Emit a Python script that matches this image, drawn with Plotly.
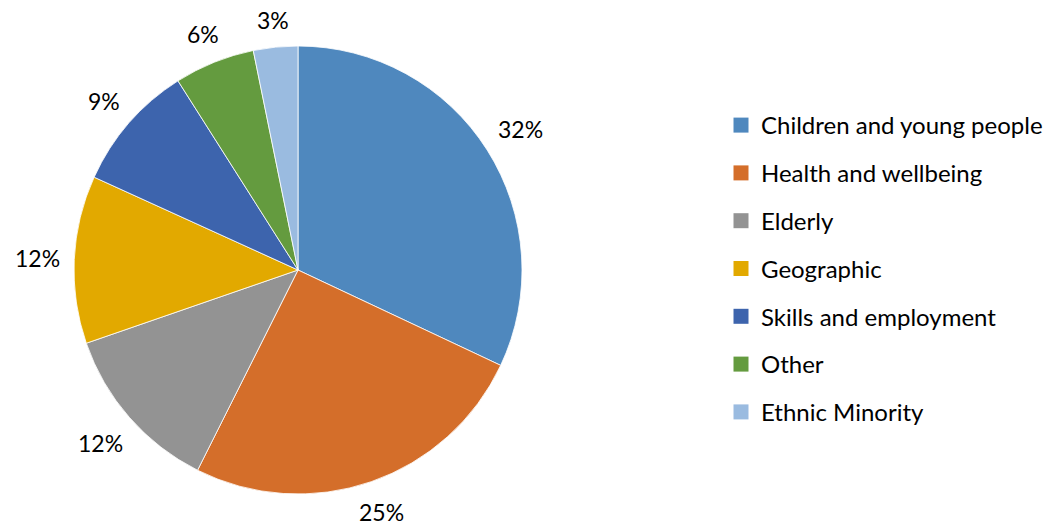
import math

import plotly.graph_objects as go

# Parts of the pie (share, in percent)
categories = [
    "Children and young people",
    "Health and wellbeing",
    "Elderly",
    "Geographic",
    "Skills and employment",
    "Other",
    "Ethnic Minority",
]
shares = [32.0, 25.4, 12.3, 12.1, 9.2, 5.8, 3.2]
colors = ["#4F88BE", "#D46E2A", "#939393", "#E2A900", "#3D64AD", "#649B3F", "#9ABBE0"]

FONT = "Lato, 'Open Sans', sans-serif"

W, H = 1059, 527
cx, cy, r = 298, 270, 224  # centre et rayon du camembert, px
gap = 15  # écart entre le bord du camembert et la boîte de l'étiquette
label_size = 23

fig = go.Figure()

fig.add_trace(
    go.Pie(
        labels=categories,
        values=shares,
        sort=False,
        direction="clockwise",
        rotation=0,
        marker=dict(colors=colors, line=dict(color="white", width=0.8)),
        textinfo="none",
        showlegend=False,
        hoverinfo="label+percent",
        domain=dict(
            x=[(cx - r) / W, (cx + r) / W],
            y=[(H - cy - r) / H, (H - cy + r) / H],
        ),
    )
)

# --- étiquettes % à l'extérieur, sur l'angle médian de chaque part ---
total = sum(shares)
cum = 0.0
for s in shares:
    theta = 2 * math.pi * (cum + s / 2) / total
    cum += s
    text = f"{round(100 * s / total)}%"
    half_w = 0.31 * label_size * len(text)  # demi-largeur approx. de la boîte
    half_h = 0.48 * label_size
    dist = r + gap + half_w * abs(math.sin(theta)) + half_h * abs(math.cos(theta))
    px = cx + dist * math.sin(theta)
    py = cy - dist * math.cos(theta)
    fig.add_annotation(
        x=px / W,
        y=1 - py / H,
        xref="paper",
        yref="paper",
        text=text,
        showarrow=False,
        xanchor="center",
        yanchor="middle",
        borderpad=0,
        font=dict(family=FONT, size=label_size, color="#000000"),
    )

# --- légende : une entrée par catégorie, espacement large ---
for i, (cat, col) in enumerate(zip(categories, colors)):
    fig.add_trace(
        go.Scatter(
            x=[None],
            y=[None],
            mode="markers",
            marker=dict(symbol="square", size=15, color=col),
            name=cat,
            legendgroup=f"g{i}",
            showlegend=True,
        )
    )

fig.update_layout(
    width=W,
    height=H,
    margin=dict(l=0, r=0, t=0, b=0),
    paper_bgcolor="white",
    plot_bgcolor="white",
    font=dict(family=FONT, size=24, color="#000000"),
    xaxis=dict(visible=False),
    yaxis=dict(visible=False),
    legend=dict(
        x=721 / W,
        xanchor="left",
        y=1 - 103 / H,
        yanchor="top",
        tracegroupgap=13.6,
        font=dict(family=FONT, size=24, color="#000000"),
        itemclick=False,
    ),
)

# pas de marge de page autour du graphique, pas de barre d'outils
fig.write_html(
    "out.html",
    config={"displayModeBar": False},
    post_script="document.body.style.margin = '0';",
)
